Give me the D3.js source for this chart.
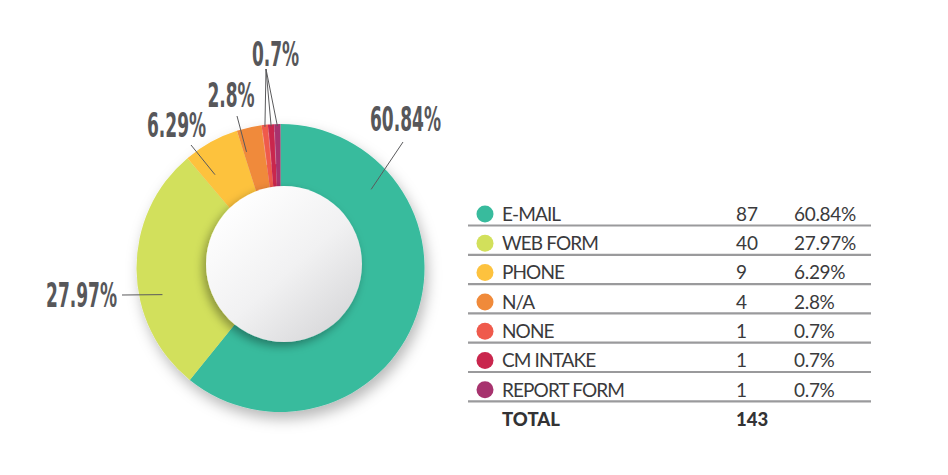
<!DOCTYPE html>
<html>
<head>
<meta charset="utf-8">
<script src="https://cdn.jsdelivr.net/npm/d3@7"></script>
<style>
  html, body { margin: 0; padding: 0; background: #ffffff; }
  svg { display: block; }
</style>
</head>
<body>
<svg id="chart" width="948" height="475"></svg>
<script>
// ---- data ----
const categories = ["E-MAIL", "WEB FORM", "PHONE", "N/A", "NONE", "CM INTAKE", "REPORT FORM"];
const counts = [87, 40, 9, 4, 1, 1, 1];
const percentLabels = ["60.84%", "27.97%", "6.29%", "2.8%", "0.7%", "0.7%", "0.7%"];
const totalLabel = "TOTAL";
const totalValue = 143;
const colors = ["#38BB9D", "#D2E05B", "#FDC23E", "#F08A3A", "#EF5A4C", "#C9264D", "#A7336E"];

// ---- layout (annotation placement, not data) ----
const cx = 280.5, cy = 268, rOuter = 144, rInner = 60;
const disc = { dx: 3.5, dy: -4, r: 78 };
const calloutWidthRef = 71; // rendered width of the widest callout, px
const callouts = [
  { text: percentLabels[0], slices: [0], frac: 0.224, r: 120, p: [122.5, -126], t: [89.5, -137], anchor: "start" },
  { text: percentLabels[1], slices: [1], frac: 0.38, r: 121, p: [-158.5, 27], t: [-163.5, 39], anchor: "end" },
  { text: percentLabels[2], slices: [2], frac: 0.23, r: 114, p: [-89.5, -123], t: [-104, -131], anchor: "middle" },
  { text: percentLabels[3], slices: [3], frac: 0.13, r: 121, p: [-43.5, -152], t: [-49.5, -161], anchor: "middle" },
  { text: percentLabels[4], slices: [4, 5, 6], frac: 0.5, r: 142, p: [-14.5, -199], t: [-5, -202], anchor: "middle" }
];

const svg = d3.select("#chart");
const defs = svg.append("defs");

const f1 = defs.append("filter").attr("id", "donutShadow")
  .attr("x", "-30%").attr("y", "-30%").attr("width", "160%").attr("height", "160%");
f1.append("feDropShadow").attr("dx", 3).attr("dy", 7).attr("stdDeviation", 7)
  .attr("flood-color", "#000").attr("flood-opacity", 0.28);

const f2 = defs.append("filter").attr("id", "discShadow")
  .attr("x", "-30%").attr("y", "-30%").attr("width", "160%").attr("height", "160%");
f2.append("feDropShadow").attr("dx", -3).attr("dy", 4).attr("stdDeviation", 5)
  .attr("flood-color", "#000").attr("flood-opacity", 0.35);

const grad = defs.append("linearGradient").attr("id", "discGrad")
  .attr("x1", "15%").attr("y1", "10%").attr("x2", "85%").attr("y2", "90%");
grad.append("stop").attr("offset", "0%").attr("stop-color", "#ffffff");
grad.append("stop").attr("offset", "55%").attr("stop-color", "#f1f1f2");
grad.append("stop").attr("offset", "100%").attr("stop-color", "#d9d9db");

const pie = d3.pie().sort(null).value(d => d).startAngle(0).endAngle(2 * Math.PI);
const arcs = pie(counts);
const arc = d3.arc().innerRadius(rInner).outerRadius(rOuter);

const g = svg.append("g").attr("transform", `translate(${cx},${cy})`);
const donut = g.append("g").attr("filter", "url(#donutShadow)");
donut.selectAll("path").data(arcs).join("path")
  .attr("d", arc)
  .attr("fill", (d, i) => colors[i]);

g.selectAll("line.sep").data(arcs.slice(4)).join("line")
  .attr("class", "sep")
  .attr("x1", d => (rOuter - 40) * Math.sin(d.startAngle))
  .attr("y1", d => -(rOuter - 40) * Math.cos(d.startAngle))
  .attr("x2", d => (rOuter - 8) * Math.sin(d.startAngle))
  .attr("y2", d => -(rOuter - 8) * Math.cos(d.startAngle))
  .attr("stroke", "#ffffff").attr("stroke-opacity", 0.35).attr("stroke-width", 0.6);

g.append("circle")
  .attr("cx", disc.dx).attr("cy", disc.dy).attr("r", disc.r)
  .attr("fill", "url(#discGrad)")
  .attr("filter", "url(#discShadow)");

// callouts
const lab = g.append("g");
let sx = null;
callouts.forEach(c => {
  c.slices.forEach(si => {
    const a = arcs[si];
    const ang = a.startAngle + c.frac * (a.endAngle - a.startAngle);
    lab.append("line")
      .attr("x1", c.r * Math.sin(ang)).attr("y1", -c.r * Math.cos(ang))
      .attr("x2", c.p[0]).attr("y2", c.p[1])
      .attr("stroke", "#5a5a5c").attr("stroke-width", 1);
  });
  const tg = lab.append("g").attr("transform", `translate(${c.t[0]},${c.t[1]})`);
  const t = tg.append("text")
    .attr("x", 0).attr("y", 0)
    .attr("text-anchor", c.anchor)
    .attr("font-family", "'DejaVu Sans Condensed', 'Liberation Sans Narrow', sans-serif")
    .attr("font-stretch", "condensed")
    .attr("font-weight", 700)
    .attr("font-size", 33)
    .attr("fill", "#57575a")
    .text(c.text);
  if (sx === null) sx = calloutWidthRef / t.node().getBBox().width;
  t.attr("transform", `scale(${sx},1)`);
});

// ---- table ----
const rowY = d3.scaleLinear().domain([0, 1]).range([214, 214 + 29.3]);
const tbl = svg.append("g");
const xDot = 485, xName = 502, xCount = 736, xPct = 794, xL1 = 468, xL2 = 871;
const fontT = "Lato, 'Open Sans', sans-serif";

const rows = tbl.selectAll("g.row").data(categories).join("g").attr("class", "row");
rows.append("circle")
  .attr("cx", xDot).attr("cy", (d, i) => rowY(i)).attr("r", 8.5)
  .attr("fill", (d, i) => colors[i]);
rows.append("text")
  .attr("x", xName).attr("y", (d, i) => rowY(i)).attr("dy", "0.36em")
  .attr("font-family", fontT).attr("font-size", 19).attr("letter-spacing", -0.9)
  .attr("fill", "#3a3a3c").text(d => d);
rows.append("text")
  .attr("x", xCount).attr("y", (d, i) => rowY(i)).attr("dy", "0.36em")
  .attr("font-family", fontT).attr("font-size", 19)
  .attr("fill", "#3a3a3c").text((d, i) => counts[i]);
rows.append("text")
  .attr("x", xPct).attr("y", (d, i) => rowY(i)).attr("dy", "0.36em")
  .attr("font-family", fontT).attr("font-size", 19).attr("letter-spacing", -0.3)
  .attr("fill", "#3a3a3c").text((d, i) => percentLabels[i]);
rows.append("line")
  .attr("x1", xL1).attr("x2", xL2)
  .attr("y1", (d, i) => rowY(i) + 11.5).attr("y2", (d, i) => rowY(i) + 11.5)
  .attr("stroke", "#9a9a9c").attr("stroke-width", 2.2);

const ti = categories.length;
tbl.append("text")
  .attr("x", xName).attr("y", rowY(ti)).attr("dy", "0.36em")
  .attr("font-family", fontT).attr("font-weight", 900).attr("font-size", 18.5)
  .attr("fill", "#333335").text(totalLabel);
tbl.append("text")
  .attr("x", xCount).attr("y", rowY(ti)).attr("dy", "0.36em")
  .attr("font-family", fontT).attr("font-weight", 900).attr("font-size", 18.5)
  .attr("fill", "#333335").text(totalValue);
</script>
</body>
</html>
